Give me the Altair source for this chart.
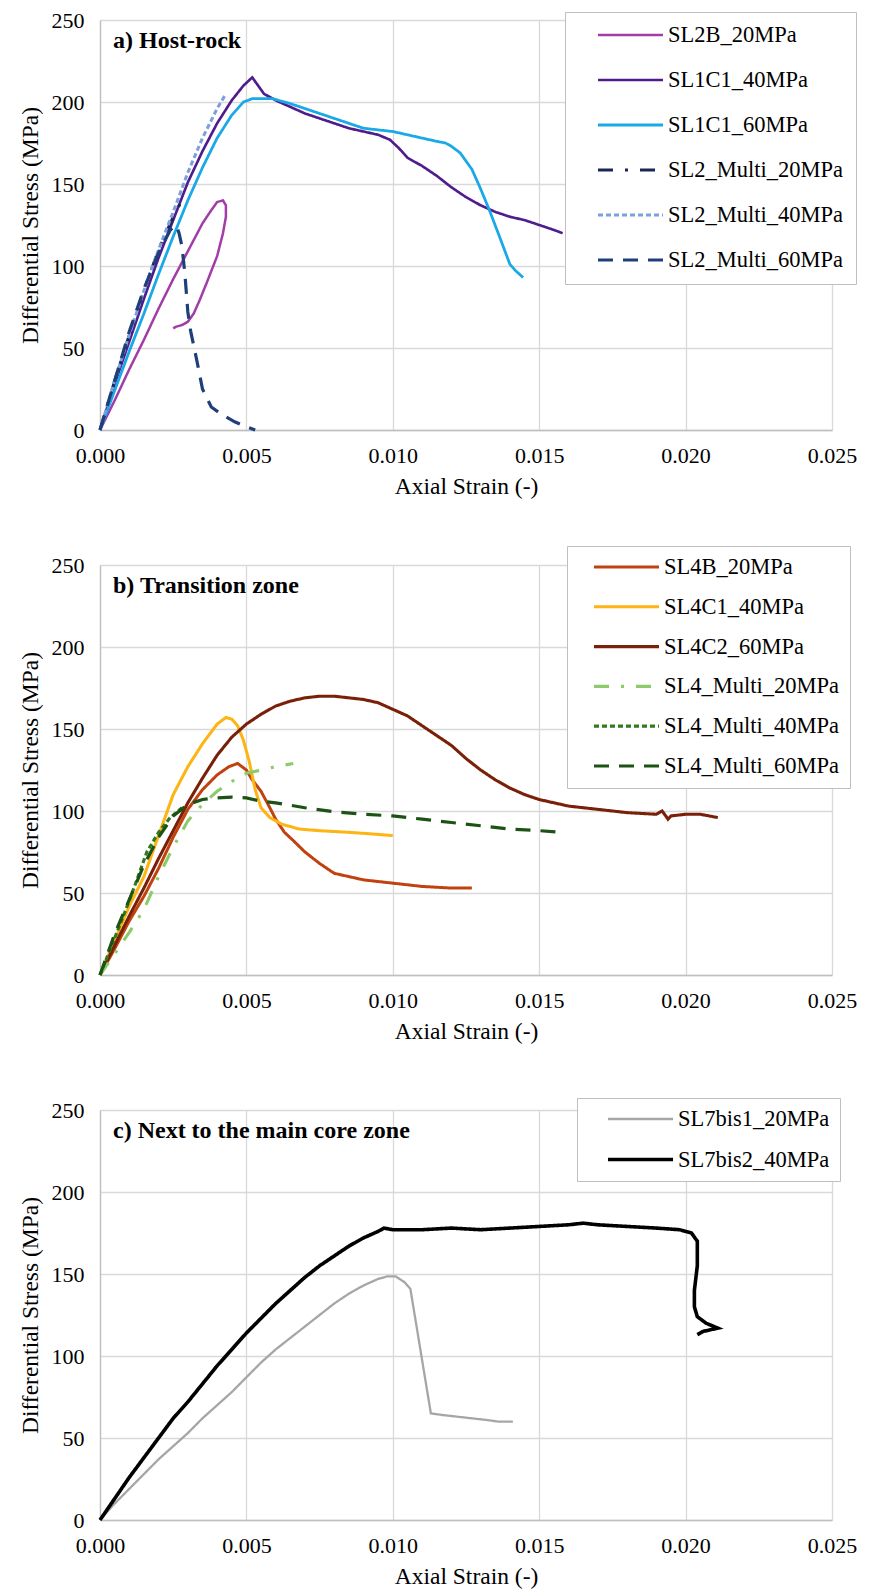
import altair as alt
import pandas as pd

FONT = "Liberation Serif"

# ---------------- Panel a) Host-rock ----------------
a_names = ["SL2B_20MPa", "SL1C1_40MPa", "SL1C1_60MPa",
           "SL2_Multi_20MPa", "SL2_Multi_40MPa", "SL2_Multi_60MPa"]
a_colors = ["#A23DA8", "#4F1C8E", "#19A9E6", "#1B2656", "#7C9FDD", "#1F3F7A"]

sl2b_x = [0, 0.0005, 0.001, 0.0015, 0.002, 0.0025, 0.003, 0.0035, 0.0038, 0.0040, 0.0042,
          0.0043, 0.0043, 0.0042, 0.0040, 0.00365, 0.0034, 0.0032, 0.0030, 0.0028, 0.0026, 0.0025]
sl2b_y = [0, 18, 37, 55, 74, 92, 109, 126, 134, 139, 140,
          137, 130, 120, 106, 90, 79, 71, 66, 64, 63, 62]

sl1c1_40_x = [0, 0.0005, 0.001, 0.0015, 0.002, 0.0025, 0.003, 0.0035, 0.004, 0.0045, 0.0049,
              0.0052, 0.0054, 0.0056, 0.006, 0.0065, 0.007, 0.0075, 0.008, 0.0085, 0.009, 0.0095,
              0.0099, 0.0102, 0.0105, 0.011, 0.0115, 0.012, 0.0125, 0.013, 0.0135, 0.014, 0.0145,
              0.015, 0.0155, 0.0158]
sl1c1_40_y = [0, 28, 54, 80, 105, 128, 151, 170, 187, 201, 210,
              215, 210, 205, 201, 197, 193, 190, 187, 184, 182, 180,
              177, 172, 166, 161, 155, 148, 142, 137, 133, 130, 128,
              125, 122, 120]

sl1c1_60_x = [0, 0.0005, 0.001, 0.0015, 0.002, 0.0025, 0.003, 0.0035, 0.004, 0.0045, 0.0049,
              0.0052, 0.0056, 0.0059, 0.0065, 0.007, 0.0075, 0.008, 0.0085, 0.009, 0.0095,
              0.010, 0.0105, 0.011, 0.0115, 0.0118, 0.012, 0.0123, 0.0127, 0.013, 0.0133,
              0.0136, 0.0140, 0.0142, 0.01445]
sl1c1_60_y = [0, 24, 48, 71, 95, 118, 140, 160, 178, 192, 200,
              202, 202, 202, 199, 196, 193, 190, 187, 184, 183,
              182, 180, 178, 176, 175, 173, 169, 159, 147, 134,
              120, 101, 97, 93]

sl2m20_x = [0, 0.0005, 0.001, 0.0015, 0.002, 0.0025, 0.0028]
sl2m20_y = [0, 30, 58, 85, 110, 130, 140]

sl2m40_x = [0, 0.0005, 0.001, 0.0015, 0.002, 0.0025, 0.003, 0.0035, 0.004, 0.0043]
sl2m40_y = [0, 30, 58, 85, 110, 133, 157, 178, 196, 205]

sl2m60_x = [0, 0.0005, 0.001, 0.0015, 0.002, 0.0024, 0.0026, 0.0027, 0.0028, 0.0029, 0.003,
            0.0031, 0.0033, 0.0035, 0.0038, 0.0042, 0.0046, 0.005, 0.0053]
sl2m60_y = [0, 30, 60, 86, 108, 122, 125, 120, 112, 95, 72,
            60, 43, 25, 14, 9, 5, 2, 0]

# ---------------- Panel b) Transition zone ----------------
b_names = ["SL4B_20MPa", "SL4C1_40MPa", "SL4C2_60MPa",
           "SL4_Multi_20MPa", "SL4_Multi_40MPa", "SL4_Multi_60MPa"]
b_colors = ["#C0420E", "#FDB414", "#7A1F08", "#8CCB6A", "#2F7A1C", "#1D5215"]

sl4b_x = [0, 0.0005, 0.001, 0.0015, 0.002, 0.0025, 0.003, 0.0035, 0.004, 0.0044, 0.0047,
          0.005, 0.0052, 0.0055, 0.0058, 0.006, 0.0063, 0.0066, 0.007, 0.0075, 0.008, 0.0085,
          0.009, 0.0095, 0.010, 0.011, 0.012, 0.0127]
sl4b_y = [0, 16, 33, 48, 65, 84, 101, 113, 122, 127, 129,
          125, 119, 112, 102, 95, 87, 82, 75, 68, 62, 60,
          58, 57, 56, 54, 53, 53]

sl4c1_x = [0, 0.0005, 0.001, 0.0015, 0.002, 0.0025, 0.003, 0.0035, 0.004, 0.0043, 0.0045,
           0.0047, 0.0049, 0.0051, 0.0053, 0.0055, 0.0058, 0.0062, 0.0068, 0.0075, 0.0085,
           0.0093, 0.010]
sl4c1_y = [0, 21, 42, 60, 85, 110, 127, 141, 153, 157, 156,
           152, 143, 130, 113, 102, 96, 92, 89, 88, 87,
           86, 85]

sl4c2_x = [0, 0.0005, 0.001, 0.0015, 0.002, 0.0025, 0.003, 0.0035, 0.004, 0.0045, 0.005,
           0.0055, 0.006, 0.0065, 0.007, 0.0075, 0.008, 0.0085, 0.009, 0.0095, 0.010, 0.0105,
           0.011, 0.0115, 0.012, 0.0125, 0.013, 0.0135, 0.014, 0.0145, 0.015, 0.016, 0.017,
           0.018, 0.019, 0.0192, 0.0194, 0.0195, 0.020, 0.0205, 0.0211]
sl4c2_y = [0, 18, 36, 53, 71, 88, 105, 120, 134, 145, 153,
           159, 164, 167, 169, 170, 170, 169, 168, 166, 162, 158,
           152, 146, 140, 132, 125, 119, 114, 110, 107, 103, 101,
           99, 98, 100, 95, 97, 98, 98, 96]

sl4m20_x = [0, 0.0005, 0.001, 0.0015, 0.002, 0.0025, 0.003, 0.0035, 0.004, 0.0045, 0.005,
            0.0055, 0.006, 0.0066]
sl4m20_y = [0, 13, 26, 40, 60, 78, 94, 104, 112, 118, 123,
            125, 127, 129]

sl4m40_x = [0, 0.0004, 0.0008, 0.0012, 0.0016, 0.002, 0.0024, 0.0028]
sl4m40_y = [0, 18, 36, 55, 75, 87, 96, 102]

sl4m60_x = [0, 0.0005, 0.001, 0.0015, 0.002, 0.0025, 0.003, 0.0035, 0.004, 0.0045, 0.005,
            0.0055, 0.006, 0.007, 0.008, 0.009, 0.010, 0.011, 0.012, 0.013, 0.014, 0.015, 0.0158]
sl4m60_y = [0, 25, 46, 67, 84, 97, 104, 107, 108, 108.5, 108,
            106, 105, 102, 99.5, 98, 97, 95, 93, 91, 89, 88, 87]

# ---------------- Panel c) Next to the main core zone ----------------
c_names = ["SL7bis1_20MPa", "SL7bis2_40MPa"]
c_colors = ["#A6A6A6", "#000000"]

sl7b1_x = [0, 0.0005, 0.001, 0.0015, 0.002, 0.0025, 0.003, 0.0035, 0.004, 0.0045, 0.005,
           0.0055, 0.006, 0.0065, 0.007, 0.0075, 0.008, 0.0085, 0.009, 0.0095, 0.0098, 0.0101,
           0.0104, 0.0106, 0.0113, 0.0117, 0.0122, 0.0127, 0.0132, 0.0136, 0.0141]
sl7b1_y = [0, 10, 19, 28, 37, 45, 53, 62, 70, 78, 87,
           96, 104, 111, 118, 125, 132, 138, 143, 147, 148.5, 148.5,
           145, 141, 65, 64, 63, 62, 61, 60, 60]

sl7b2_x = [0, 0.0005, 0.001, 0.0015, 0.002, 0.0025, 0.003, 0.0035, 0.004, 0.0045, 0.005,
           0.0055, 0.006, 0.0065, 0.007, 0.0075, 0.008, 0.0085, 0.009, 0.0095, 0.0097, 0.010,
           0.011, 0.012, 0.013, 0.014, 0.015, 0.016, 0.0165, 0.017, 0.018, 0.019, 0.0198,
           0.0202, 0.0204, 0.0204, 0.0203, 0.0203, 0.0204, 0.0207, 0.0211, 0.0206, 0.0204]
sl7b2_y = [0, 13, 26, 38, 50, 62, 72, 83, 94, 104, 114,
           123, 132, 140, 148, 155, 161, 167, 172, 176, 178, 177,
           177, 178, 177, 178, 179, 180, 181, 180, 179, 178, 177,
           175, 170, 155, 140, 130, 124, 120, 117, 115, 113]

x_ticks = [0, 0.005, 0.010, 0.015, 0.020, 0.025]
y_ticks = [0, 50, 100, 150, 200, 250]

SOLID = [1, 0]
DASHDOT = [15, 12, 3, 12]
SHORT = [5, 3]
LONG = [15, 10]


def make_df(names, series):
    rows = []
    for name, (xs, ys) in zip(names, series):
        for i, (xv, yv) in enumerate(zip(xs, ys)):
            rows.append({"series": name, "strain": xv, "stress": yv, "idx": i})
    return pd.DataFrame(rows)


AXIS_STYLE = dict(labelFont=FONT, titleFont=FONT, labelFontSize=22, titleFontSize=23.5,
                  titleFontWeight="normal", labelColor="black", titleColor="black",
                  gridColor="#d9d9d9", gridWidth=1.3, domainColor="#bfbfbf", domainWidth=1.3,
                  ticks=False, labelFlush=False, labelOverlap=False)


def panel(df, names, colors, dashes, widths, label, lx, ly, row_pad, pad, sym_off):
    leg = alt.Legend(title=None, orient="none", legendX=lx, legendY=ly,
                     rowPadding=row_pad, symbolType="stroke", symbolSize=4225,
                     clipHeight=22, symbolStrokeWidth=3, labelFont=FONT,
                     labelFontSize=22.5, labelColor="black", padding=pad,
                     strokeColor="#bfbfbf", fillColor="white", symbolOffset=sym_off,
                     labelOffset=3, labelLimit=400)
    lines = alt.Chart(df).mark_line().encode(
        x=alt.X("strain:Q", scale=alt.Scale(domain=[0, 0.025], nice=False),
                axis=alt.Axis(values=x_ticks, format=".3f", title="Axial Strain (-)",
                              labelPadding=15, titlePadding=8, **AXIS_STYLE)),
        y=alt.Y("stress:Q", scale=alt.Scale(domain=[0, 250], nice=False),
                axis=alt.Axis(values=y_ticks, format="d", title="Differential Stress (MPa)",
                              labelPadding=16, titlePadding=9, **AXIS_STYLE)),
        color=alt.Color("series:N", sort=names,
                        scale=alt.Scale(domain=names, range=colors), legend=leg),
        strokeDash=alt.StrokeDash("series:N", sort=names,
                                  scale=alt.Scale(domain=names, range=dashes), legend=leg),
        strokeWidth=alt.StrokeWidth("series:N",
                                    scale=alt.Scale(domain=names, range=widths), legend=None),
        order=alt.Order("idx:Q"),
    )
    text = alt.Chart(pd.DataFrame({"label": [label]})).mark_text(
        align="left", baseline="middle", font=FONT, fontSize=24, fontWeight="bold",
        color="black").encode(x=alt.value(13), y=alt.value(21), text="label:N")
    return alt.layer(lines, text).properties(width=732, height=410)


df_a = make_df(a_names, [(sl2b_x, sl2b_y), (sl1c1_40_x, sl1c1_40_y), (sl1c1_60_x, sl1c1_60_y),
                         (sl2m20_x, sl2m20_y), (sl2m40_x, sl2m40_y), (sl2m60_x, sl2m60_y)])
df_b = make_df(b_names, [(sl4b_x, sl4b_y), (sl4c1_x, sl4c1_y), (sl4c2_x, sl4c2_y),
                         (sl4m20_x, sl4m20_y), (sl4m40_x, sl4m40_y), (sl4m60_x, sl4m60_y)])
df_c = make_df(c_names, [(sl7b1_x, sl7b1_y), (sl7b2_x, sl7b2_y)])

pa = panel(df_a, a_names, a_colors, [SOLID, SOLID, SOLID, DASHDOT, SHORT, LONG],
           [2.5, 3.2, 3.2, 3, 3, 3], "a) Host-rock", 465, -8, 22, 12, 19)
pb = panel(df_b, b_names, b_colors, [SOLID, SOLID, SOLID, DASHDOT, SHORT, LONG],
           [3, 3.2, 3.2, 3, 3, 3], "b) Transition zone", 467, -19, 16.8, 10, 15)
pc = panel(df_c, c_names, c_colors, [SOLID, SOLID],
           [2.3, 3.6], "c) Next to the main core zone", 477, -12, 17.5, 10, 19)

chart = alt.vconcat(pa, pb, pc, spacing=135, bounds="flush").resolve_scale(
    color="independent", strokeDash="independent", strokeWidth="independent"
).properties(
    padding={"left": 10, "top": 1, "right": 0, "bottom": 5}
).configure(font=FONT).configure_axis(
    labelFont=FONT, titleFont=FONT
).configure_legend(
    labelFont=FONT
).configure_view(stroke=None)

chart.save("out.html", embed_options={"renderer": "svg", "actions": False})
